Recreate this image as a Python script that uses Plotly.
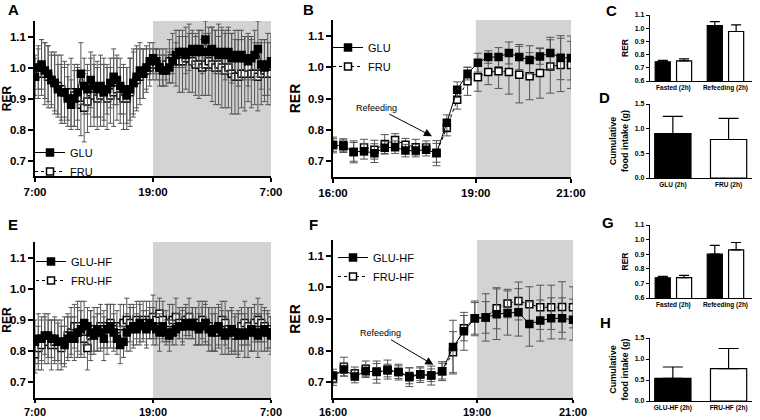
import numpy as np
import plotly.graph_objects as go

W, H = 760, 420
FONT = "Liberation Sans, Arial, sans-serif"

# ---------------- Panel A: 24 h, normal diet (20-min bins, 7:00 -> 7:00) ----------------
a_glu = [0.97, 1.00, 1.01, 0.99,
         0.98, 0.96, 0.95,
         0.93, 0.92, 0.92,
         0.90, 0.88, 0.90,
         0.92, 0.98, 0.94,
         0.93, 0.96, 0.94,
         0.93, 0.94, 0.92,
         0.93, 0.95, 0.97,
         0.96, 0.94, 0.93,
         0.91, 0.93, 0.95,
         0.97, 0.99, 0.98,
         1.00, 1.02, 1.03,
         1.02, 1.00, 0.99,
         0.99, 1.00, 1.02,
         1.04, 1.05, 1.05,
         1.04, 1.05, 1.06,
         1.05, 1.06, 1.05,
         1.09, 1.05, 1.06,
         1.05, 1.04, 1.05,
         1.04, 1.05, 1.03,
         1.04, 1.03, 1.04,
         1.03, 1.02, 1.03,
         1.04, 1.06, 1.01,
         1.00, 1.01, 1.02]
a_glu_err = [0.06, 0.07, 0.08, 0.09,
             0.09, 0.08, 0.09,
             0.08, 0.09, 0.08,
             0.07, 0.08, 0.09,
             0.09, 0.10, 0.09,
             0.08, 0.09, 0.10,
             0.09, 0.10, 0.09,
             0.08, 0.08, 0.09,
             0.08, 0.09, 0.08,
             0.09, 0.10, 0.11,
             0.10, 0.09, 0.08,
             0.07, 0.06, 0.05,
             0.04, 0.04, 0.05,
             0.05, 0.05, 0.04,
             0.04, 0.05, 0.05,
             0.06, 0.06, 0.05,
             0.05, 0.06, 0.07,
             0.06, 0.06, 0.07,
             0.07, 0.06, 0.07,
             0.08, 0.07, 0.08,
             0.08, 0.09, 0.08,
             0.07, 0.08, 0.07,
             0.08, 0.09, 0.08,
             0.09, 0.10, 0.09]
a_fru = [0.97, 0.98, 1.00, 0.98,
         0.97, 0.96, 0.95,
         0.94, 0.93, 0.92,
         0.91, 0.92, 0.91,
         0.90, 0.88, 0.87,
         0.89, 0.92, 0.91,
         0.90, 0.91, 0.92,
         0.90, 0.91, 0.92,
         0.93, 0.91, 0.90,
         0.90, 0.92, 0.95,
         0.96, 0.97, 0.98,
         0.99, 1.00, 1.01,
         1.01, 1.00, 1.00,
         1.01, 1.02, 1.03,
         1.03, 1.02, 1.02,
         1.03, 1.03, 1.02,
         1.01, 1.01, 1.00,
         1.01, 1.02, 1.01,
         1.00, 1.01, 1.00,
         0.99, 1.00, 0.98,
         0.97, 0.97, 0.98,
         0.98, 1.00, 0.98,
         0.98, 0.97, 0.98,
         0.99, 0.98, 0.98]
a_fru_err = [0.07, 0.08, 0.09, 0.10,
             0.10, 0.09, 0.10,
             0.10, 0.11, 0.10,
             0.10, 0.11, 0.10,
             0.10, 0.10, 0.11,
             0.10, 0.11, 0.10,
             0.10, 0.10, 0.11,
             0.10, 0.09, 0.11,
             0.10, 0.09, 0.10,
             0.10, 0.11, 0.10,
             0.10, 0.09, 0.08,
             0.07, 0.06, 0.05,
             0.05, 0.06, 0.06,
             0.05, 0.07, 0.08,
             0.09, 0.10, 0.10,
             0.10, 0.11, 0.10,
             0.10, 0.11, 0.09,
             0.10, 0.11, 0.12,
             0.12, 0.13, 0.13,
             0.12, 0.13, 0.13,
             0.12, 0.12, 0.11,
             0.12, 0.11, 0.11,
             0.10, 0.11, 0.10,
             0.10, 0.10, 0.10]

# ---------------- Panel B: refeeding, normal diet (16:00 -> 21:00) ----------------
b_glu = [0.752, 0.748, 0.730, 0.732, 0.726, 0.743, 0.745, 0.734, 0.734, 0.737, 0.726, 0.823,
         0.928, 0.979, 1.014, 1.032, 1.032, 1.045, 1.032, 1.023, 1.034, 1.045, 1.030, 1.029]
b_glu_err = [0.025, 0.020, 0.035, 0.025, 0.030, 0.020, 0.020, 0.020, 0.020, 0.020, 0.040, 0.025,
             0.025, 0.020, 0.030, 0.020, 0.030, 0.035, 0.040, 0.045, 0.025, 0.050, 0.070, 0.070]
b_fru = [0.752, 0.752, 0.730, 0.745, 0.737, 0.755, 0.768, 0.753, 0.745, 0.745, 0.727, 0.806,
         0.896, 0.955, 0.968, 0.984, 0.987, 0.984, 0.976, 0.971, 0.981, 1.002, 1.007, 1.007]
b_fru_err = [0.020, 0.020, 0.030, 0.025, 0.030, 0.030, 0.020, 0.020, 0.025, 0.020, 0.030, 0.025,
             0.030, 0.045, 0.045, 0.040, 0.055, 0.070, 0.090, 0.075, 0.080, 0.085, 0.085, 0.075]

# ---------------- Panel C / D ----------------
c_cats = ["Fasted (2h)", "Refeeding (2h)"]
c_glu = [0.745, 1.02]
c_glu_err = [0.012, 0.03]
c_fru = [0.752, 0.975]
c_fru_err = [0.015, 0.05]

d_cats = ["GLU (2h)", "FRU (2h)"]
d_vals = [0.90, 0.78]
d_err = [0.35, 0.43]

# ---------------- Panel E: 24 h, high-fat diet ----------------
e_glu = [0.83, 0.84, 0.84, 0.85,
         0.85, 0.84, 0.84,
         0.83, 0.83, 0.82,
         0.84, 0.85, 0.84,
         0.86, 0.87, 0.89,
         0.88, 0.86, 0.85,
         0.87, 0.86, 0.84,
         0.87, 0.88, 0.86,
         0.84, 0.82, 0.83,
         0.86, 0.87, 0.88,
         0.87, 0.89, 0.88,
         0.87, 0.89, 0.88,
         0.87, 0.86, 0.88,
         0.86, 0.85, 0.86,
         0.87, 0.88, 0.88,
         0.89, 0.88, 0.89,
         0.88, 0.87, 0.88,
         0.89, 0.87, 0.86,
         0.87, 0.88, 0.86,
         0.85, 0.86, 0.87,
         0.86, 0.85, 0.86,
         0.85, 0.86, 0.87,
         0.86, 0.85, 0.86,
         0.87, 0.86, 0.85]
e_glu_err = [0.07, 0.08, 0.07, 0.06,
             0.07, 0.06, 0.07,
             0.06, 0.07, 0.06,
             0.07, 0.06, 0.07,
             0.08, 0.09, 0.07,
             0.06, 0.07, 0.06,
             0.07, 0.06, 0.07,
             0.08, 0.07, 0.06,
             0.05, 0.06, 0.05,
             0.06, 0.07, 0.06,
             0.05, 0.06, 0.05,
             0.06, 0.05, 0.06,
             0.05, 0.06, 0.05,
             0.04, 0.05, 0.04,
             0.05, 0.04, 0.05,
             0.05, 0.04, 0.05,
             0.06, 0.05, 0.06,
             0.06, 0.07, 0.06,
             0.07, 0.06, 0.07,
             0.06, 0.07, 0.07,
             0.06, 0.07, 0.06,
             0.07, 0.08, 0.07,
             0.06, 0.07, 0.06,
             0.07, 0.06, 0.06]
e_fru = [0.79, 0.81, 0.82, 0.84,
         0.83, 0.82, 0.83,
         0.82, 0.81, 0.83,
         0.85, 0.86, 0.88,
         0.88, 0.86, 0.84,
         0.81, 0.85, 0.87,
         0.86, 0.88, 0.87,
         0.88, 0.89, 0.88,
         0.87, 0.88, 0.89,
         0.90, 0.89, 0.88,
         0.90, 0.89, 0.90,
         0.89, 0.90, 0.91,
         0.90, 0.92, 0.90,
         0.88, 0.89, 0.90,
         0.91, 0.89, 0.88,
         0.90, 0.91, 0.89,
         0.88, 0.89, 0.90,
         0.89, 0.88, 0.87,
         0.86, 0.88, 0.90,
         0.89, 0.87, 0.86,
         0.85, 0.86, 0.88,
         0.89, 0.88, 0.87,
         0.89, 0.90, 0.89,
         0.88, 0.87, 0.86]
e_fru_err = [0.06, 0.07, 0.08, 0.08,
             0.07, 0.08, 0.07,
             0.08, 0.07, 0.08,
             0.07, 0.08, 0.07,
             0.08, 0.07, 0.06,
             0.07, 0.08, 0.07,
             0.06, 0.07, 0.06,
             0.07, 0.06, 0.07,
             0.06, 0.07, 0.06,
             0.07, 0.06, 0.07,
             0.06, 0.07, 0.06,
             0.07, 0.06, 0.07,
             0.06, 0.05, 0.06,
             0.05, 0.06, 0.05,
             0.06, 0.05, 0.06,
             0.05, 0.06, 0.05,
             0.06, 0.07, 0.06,
             0.07, 0.06, 0.07,
             0.06, 0.07, 0.06,
             0.07, 0.06, 0.07,
             0.06, 0.07, 0.06,
             0.07, 0.06, 0.07,
             0.06, 0.07, 0.06,
             0.05, 0.06, 0.05]

# ---------------- Panel F: refeeding, high-fat diet ----------------
f_glu = [0.721, 0.740, 0.718, 0.735, 0.732, 0.737, 0.732, 0.716, 0.724, 0.721, 0.735, 0.811,
         0.861, 0.902, 0.905, 0.915, 0.919, 0.921, 0.884, 0.895, 0.902, 0.902, 0.898]
f_glu_err = [0.020, 0.020, 0.020, 0.020, 0.035, 0.020, 0.025, 0.030, 0.025, 0.030, 0.025, 0.085,
             0.060, 0.055, 0.075, 0.080, 0.070, 0.075, 0.070, 0.065, 0.065, 0.065, 0.065]
f_fru = [0.710, 0.749, 0.728, 0.742, 0.734, 0.740, 0.732, 0.720, 0.725, 0.722, 0.735, 0.795,
         0.871, 0.902, 0.905, 0.934, 0.949, 0.957, 0.947, 0.937, 0.937, 0.938, 0.937]
f_fru_err = [0.020, 0.030, 0.020, 0.025, 0.025, 0.030, 0.020, 0.025, 0.020, 0.020, 0.030, 0.065,
             0.040, 0.050, 0.050, 0.065, 0.045, 0.060, 0.055, 0.070, 0.070, 0.080, 0.065]

# ---------------- Panel G / H ----------------
g_cats = ["Fasted (2h)", "Refeeding (2h)"]
g_glu = [0.738, 0.90]
g_glu_err = [0.010, 0.06]
g_fru = [0.740, 0.93]
g_fru_err = [0.015, 0.05]

h_cats = ["GLU-HF (2h)", "FRU-HF (2h)"]
h_vals = [0.54, 0.77]
h_err = [0.27, 0.48]

# time axes (hours; 24-h panels cross midnight -> 7..31)
a_hours = 7 + np.arange(len(a_glu)) / 3
e_hours = 7 + np.arange(len(e_glu)) / 3
b_hours = np.linspace(16, 21, len(b_glu))
f_hours = np.linspace(16, 21, len(f_glu))


def px_x(l, r):
    return [l / W, r / W]


def px_y(t, b):
    return [1 - b / H, 1 - t / H]


fig = go.Figure()


def series(x, y, err, name, filled, xa, ya, legend, rank, size=7, cap=3):
    return go.Scatter(
        x=x, y=y, name=name, mode="lines+markers", xaxis=xa, yaxis=ya,
        legend=legend, legendrank=rank,
        line=dict(color="black", width=1, dash="solid" if filled else "dot"),
        marker=dict(symbol="square", size=size,
                    color="black" if filled else "white",
                    line=dict(color="black", width=1.5)),
        error_y=dict(type="data", array=err, visible=True, color="#555555",
                     thickness=1, width=cap),
    )


# time-course panels (FRU drawn first so GLU sits on top)
fig.add_trace(series(a_hours, a_fru, a_fru_err, "FRU", False, "x", "y", "legend", 2, 7, 2.5))
fig.add_trace(series(a_hours, a_glu, a_glu_err, "GLU", True, "x", "y", "legend", 1, 7, 2.5))
fig.add_trace(series(b_hours, b_fru, b_fru_err, "FRU", False, "x2", "y2", "legend2", 2, 7, 4))
fig.add_trace(series(b_hours, b_glu, b_glu_err, "GLU", True, "x2", "y2", "legend2", 1, 7, 4))
fig.add_trace(series(e_hours, e_fru, e_fru_err, "FRU-HF", False, "x5", "y5", "legend3", 2, 7, 2.5))
fig.add_trace(series(e_hours, e_glu, e_glu_err, "GLU-HF", True, "x5", "y5", "legend3", 1, 7, 2.5))
fig.add_trace(series(f_hours, f_fru, f_fru_err, "FRU-HF", False, "x6", "y6", "legend4", 2, 7, 4))
fig.add_trace(series(f_hours, f_glu, f_glu_err, "GLU-HF", True, "x6", "y6", "legend4", 1, 7, 4))


def bar(x, y, err, color, xa, ya, width, offset=None, cap=5):
    kw = dict(x=x, y=y, xaxis=xa, yaxis=ya, showlegend=False, width=width,
              marker=dict(color=color, line=dict(color="black", width=1.2)),
              error_y=dict(type="data", symmetric=False, array=err,
                           arrayminus=[0] * len(err), color="black",
                           thickness=1.2, width=cap))
    if offset is not None:
        kw["offset"] = offset
    return go.Bar(**kw)


fig.add_trace(bar(c_cats, c_glu, c_glu_err, "black", "x3", "y3", 0.29, -0.35, 5))
fig.add_trace(bar(c_cats, c_fru, c_fru_err, "white", "x3", "y3", 0.29, 0.06, 5))
fig.add_trace(bar(d_cats, d_vals, d_err, ["black", "white"], "x4", "y4", 0.65, None, 10))
fig.add_trace(bar(g_cats, g_glu, g_glu_err, "black", "x7", "y7", 0.29, -0.35, 5))
fig.add_trace(bar(g_cats, g_fru, g_fru_err, "white", "x7", "y7", 0.29, 0.06, 5))
fig.add_trace(bar(h_cats, h_vals, h_err, ["black", "white"], "x8", "y8", 0.65, None, 10))

axis_common = dict(showgrid=False, zeroline=False, showline=True, linecolor="black",
                   linewidth=1.5, ticks="outside", tickcolor="black", automargin=False)

big_tick = dict(size=11.5, family=FONT, weight="bold", color="black")
bottom_tick = dict(size=11, family=FONT, weight="bold", color="black")
small_tick = dict(size=7, family=FONT, weight="bold", color="black")


def time_x(l, r, anchor, rng, vals, text, font=big_tick, tlen=4):
    return dict(axis_common, domain=px_x(l, r), anchor=anchor, range=rng,
                tickvals=vals, ticktext=text, ticklen=tlen, tickwidth=1.5, tickfont=font)


def rer_y(t, b, anchor, tsize, standoff):
    return dict(axis_common, domain=px_y(t, b), anchor=anchor, range=[0.65, 1.15],
                tickvals=[0.7, 0.8, 0.9, 1.0, 1.1], tickformat=".1f", ticklen=5,
                tickwidth=1.5, tickfont=big_tick,
                title=dict(text="RER", font=dict(size=tsize, family=FONT, weight="bold",
                                                 color="black"), standoff=standoff))


def bar_x(l, r, anchor, rng):
    return dict(axis_common, domain=px_x(l, r), anchor=anchor, range=rng, ticks="",
                linewidth=1.2, tickfont=dict(size=6.5, family=FONT, weight="bold", color="black"))


def bar_y(t, b, anchor, rng, vals, title, tsize):
    return dict(axis_common, domain=px_y(t, b), anchor=anchor, range=rng, tickvals=vals,
                tickformat=".1f", ticklen=3, tickwidth=1.2, linewidth=1.2, tickfont=small_tick,
                title=dict(text=title, font=dict(size=tsize, family=FONT, weight="bold",
                                                 color="black"), standoff=4))


legend_font = dict(size=11, family=FONT, color="black")


def leg(xpx, ypx):
    return dict(x=xpx / W, y=1 - ypx / H, xanchor="left", yanchor="top",
                bgcolor="rgba(0,0,0,0)", font=legend_font, tracegroupgap=0,
                itemwidth=30)


fig.update_layout(
    width=W, height=H, margin=dict(l=0, r=0, t=0, b=0),
    paper_bgcolor="white", plot_bgcolor="white", barmode="overlay",
    font=dict(family=FONT, color="black"),
    xaxis=time_x(35, 271, "y", [7, 31], [7, 19, 31], ["7:00", "19:00", "7:00"]),
    yaxis=rer_y(21, 176, "x", 12, 4),
    xaxis2=time_x(333, 571, "y2", [16, 21], [16, 19, 21], ["16:00", "19:00", "21:00"]),
    yaxis2=rer_y(20, 177, "x2", 14, 4),
    xaxis3=bar_x(650, 752, "y3", [-0.45, 1.51]),
    yaxis3=bar_y(15, 81, "x3", [0.6, 1.1], [0.6, 0.7, 0.8, 0.9, 1.0, 1.1], "RER", 8.5),
    xaxis4=bar_x(650, 752, "y4", [-0.41, 1.42]),
    yaxis4=bar_y(104, 178, "x4", [0, 1.5], [0, 0.5, 1.0, 1.5],
                 "Cumulative<br>food intake (g)", 9),
    xaxis5=time_x(35, 271, "y5", [7, 31], [7, 19, 31], ["7:00", "19:00", "7:00"],
                  bottom_tick, 3),
    yaxis5=rer_y(242, 398, "x5", 12, 4),
    xaxis6=time_x(333, 573, "y6", [16, 21], [16, 19, 21], ["16:00", "19:00", "21:00"],
                  bottom_tick, 3),
    yaxis6=rer_y(240, 398, "x6", 14, 4),
    xaxis7=bar_x(650, 752, "y7", [-0.45, 1.51]),
    yaxis7=bar_y(225, 298, "x7", [0.6, 1.1], [0.6, 0.7, 0.8, 0.9, 1.0, 1.1], "RER", 8.5),
    xaxis8=bar_x(650, 752, "y8", [-0.41, 1.42]),
    yaxis8=bar_y(338, 401, "x8", [0, 1.5], [0, 0.5, 1.0, 1.5],
                 "Cumulative<br>food intake (g)", 9),
    legend=leg(30, 138),
    legend2=leg(328, 33),
    legend3=leg(31, 247),
    legend4=leg(333, 243),
)

# dark-phase shading
for xr, x0, x1 in [("x", 19, 31), ("x2", 19, 21), ("x5", 19, 31), ("x6", 19, 21)]:
    yr = "y" + xr[1:] + " domain" if len(xr) > 1 else "y domain"
    fig.add_shape(type="rect", xref=xr, yref=yr, x0=x0, x1=x1, y0=0, y1=1,
                  fillcolor="#d3d3d3", line=dict(width=0), layer="below")

# panel letters
letters = [("A", 14, 9), ("B", 308, 9), ("C", 611, 10), ("D", 604, 97),
           ("E", 13, 224), ("F", 313, 224), ("G", 608, 222), ("H", 605, 322)]
for txt, xp, yp in letters:
    fig.add_annotation(text=txt, x=xp / W, y=1 - yp / H, xref="paper", yref="paper",
                       xanchor="center", yanchor="middle", showarrow=False,
                       font=dict(size=15, family=FONT, weight="bold", color="black"))

# "Refeeding" arrows
for xa, ya, tip, txt in [("x2", "y2", (18.08, 0.78), (16.92, 0.871)),
                         ("x6", "y6", (18.09, 0.755), (16.98, 0.855))]:
    fig.add_annotation(x=tip[0], y=tip[1], ax=txt[0], ay=txt[1], xref=xa, yref=ya,
                       axref=xa, ayref=ya, text="Refeeding", showarrow=True,
                       arrowhead=2, arrowsize=1.6, arrowwidth=1, arrowcolor="black",
                       font=dict(size=9, family=FONT, color="black"))

fig.write_html("out.html", config={"displayModeBar": False},
               post_script="document.body.style.margin='0';document.body.style.overflow='hidden';")
